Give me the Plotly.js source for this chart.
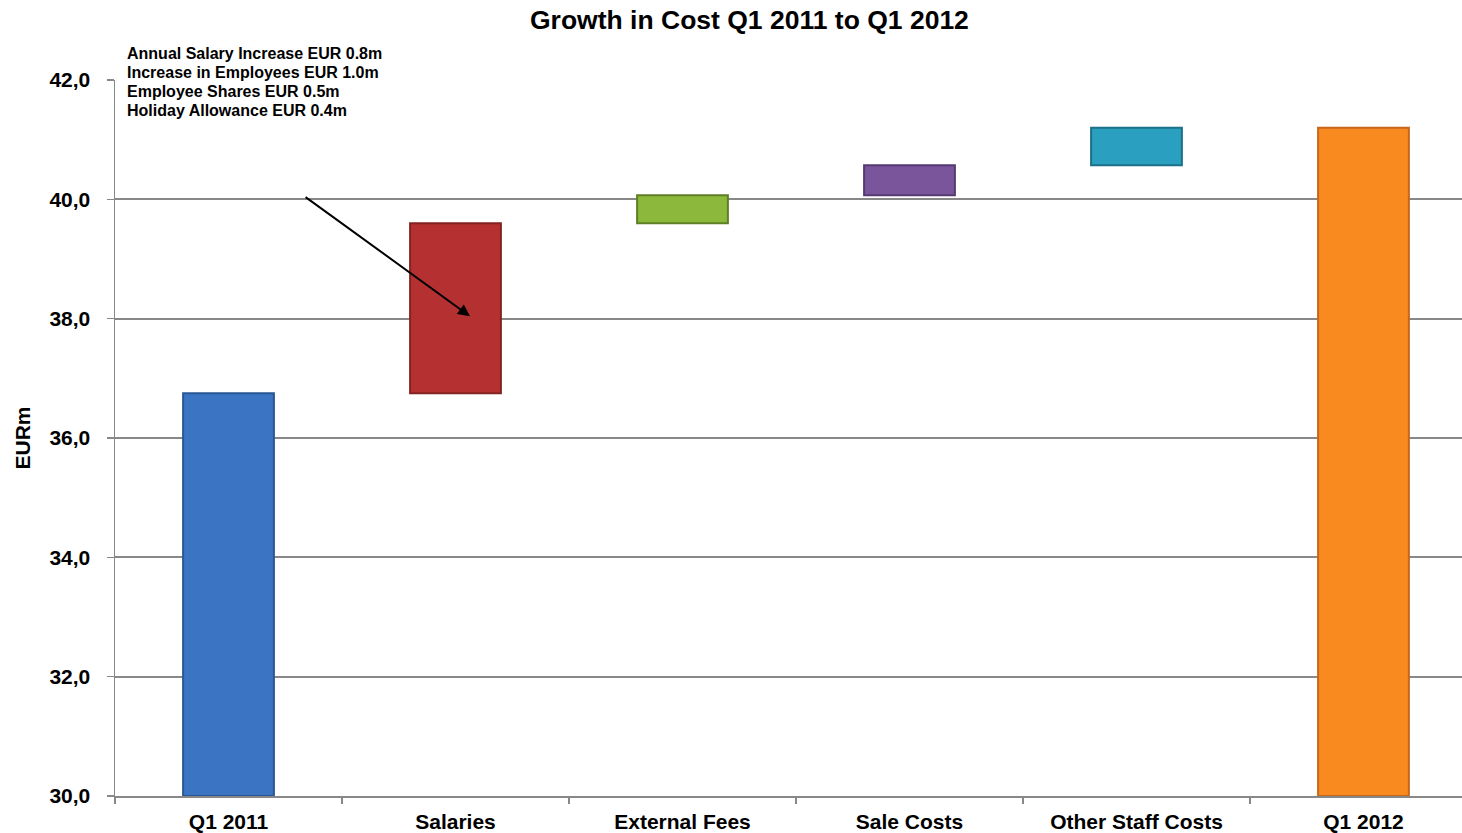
<!DOCTYPE html>
<html>
<head>
<meta charset="utf-8">
<script src="https://cdn.plot.ly/plotly-3.0.1.min.js"></script>
<style>html,body{margin:0;padding:0;background:#fff;overflow:hidden}#chart{width:1462px;height:833px}</style>
</head>
<body>
<div id="chart"></div>
<script>
// ---- data ----
const categories = ["Q1 2011", "Salaries", "External Fees", "Sale Costs", "Other Staff Costs", "Q1 2012"];
const startValue = 36.75;
const deltas = [2.85, 0.47, 0.5, 0.63];       // Salaries, External Fees, Sale Costs, Other Staff Costs
const endValue = 41.2;
const barColors = ["#3a74c2", "#b53131", "#8cb83c", "#7a559c", "#2b9fbf", "#f98a20"];
const lineColors = ["#2a5794", "#842222", "#5f7f26", "#553a70", "#1c7188", "#c8661a"];
const noteLines = [
  "Annual Salary Increase EUR 0.8m",
  "Increase in Employees EUR 1.0m",
  "Employee Shares EUR 0.5m",
  "Holiday Allowance EUR 0.4m"
];
const yTicks = [30, 32, 34, 36, 38, 40, 42];
const yTickText = ["30,0", "32,0", "34,0", "36,0", "38,0", "40,0", "42,0"];

// build bases & heights for floating bars
const bases = [30];
const heights = [startValue - 30];
let run = startValue;
deltas.forEach(d => { bases.push(run); heights.push(d); run += d; });
bases.push(30);
heights.push(endValue - 30);

const FONT = "Arial, 'Liberation Sans', sans-serif";

const trace = {
  type: "bar",
  x: categories,
  y: heights,
  base: bases,
  width: 0.4,
  marker: { color: barColors, line: { color: lineColors, width: 2 } },
  hoverinfo: "skip"
};

const noteAnnotations = noteLines.map((s, i) => ({
  xref: "paper", yref: "paper",
  x: 0.0075, y: 1.052, yshift: -19 * i,
  xanchor: "left", yanchor: "top", align: "left",
  showarrow: false,
  text: "<b>" + s + "</b>",
  font: { family: FONT, size: 16, color: "#000" }
}));

const layout = {
  width: 1462,
  height: 833,
  margin: { l: 115, r: 0, t: 80, b: 37 },
  paper_bgcolor: "#ffffff",
  plot_bgcolor: "#ffffff",
  showlegend: false,
  title: {
    text: "<b>Growth in Cost Q1 2011 to Q1 2012</b>",
    font: { family: FONT, size: 26.5, color: "#000" },
    x: 0.471, xref: "paper", xanchor: "center",
    y: 0.976, yref: "container", yanchor: "middle"
  },
  xaxis: {
    type: "category",
    range: [-0.5, 5.434],
    tickson: "boundaries",
    ticks: "outside",
    ticklen: 6,
    tickwidth: 1.5,
    tickcolor: "#888",
    showline: true,
    linecolor: "#888",
    linewidth: 1.5,
    showgrid: false,
    ticklabelstandoff: 6,
    tickfont: { family: FONT, size: 21, color: "#000", weight: "bold" },
    fixedrange: true
  },
  yaxis: {
    range: [30, 42],
    tickvals: yTicks,
    ticktext: yTickText,
    ticks: "outside",
    ticklen: 7,
    tickwidth: 1.5,
    tickcolor: "#888",
    showline: true,
    linecolor: "#888",
    linewidth: 1.5,
    showgrid: true,
    gridcolor: "#888888",
    gridwidth: 1.8,
    zeroline: false,
    ticklabelstandoff: 12,
    tickfont: { family: FONT, size: 21, color: "#000", weight: "bold" },
    title: { text: "<b>EURm</b>", font: { family: FONT, size: 21, color: "#000" }, standoff: 13 },
    fixedrange: true
  },
  annotations: noteAnnotations.concat([
    {
      xref: "x", yref: "y", axref: "x", ayref: "y",
      x: 1.064, y: 38.04, ax: 0.333, ay: 40.056,
      text: "", showarrow: true, arrowhead: 2, arrowsize: 1.2, arrowwidth: 2, arrowcolor: "#000"
    }
  ])
};

Plotly.newPlot("chart", [trace], layout, { displayModeBar: false, staticPlot: true });
</script>
</body>
</html>
